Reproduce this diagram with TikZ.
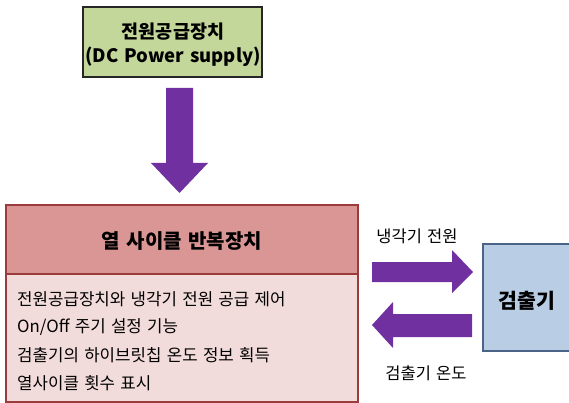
\documentclass[tikz,border=0pt]{standalone}
\usepackage{fontspec}
\setmainfont[WordSpace=1.4]{Noto Sans CJK KR}
\definecolor{psgreen}{HTML}{C4D79B}
\definecolor{hdrred}{HTML}{DA9694}
\definecolor{bodyred}{HTML}{F2DCDB}
\definecolor{bordred}{HTML}{9C3B3B}
\definecolor{detblue}{HTML}{B9CDE5}
\definecolor{detbord}{HTML}{4A6488}
\definecolor{arrowpurple}{HTML}{7030A0}
\tikzset{
  boxline/.style={line width=1.5pt},
  bigarrow/.style={fill=arrowpurple, draw=none},
  bodytext/.style={anchor=west, inner sep=0pt, font=\fontsize{16.8}{18}\selectfont},
  lbltext/.style={inner sep=0pt, font=\fontsize{16.5}{18}\selectfont},
}
\begin{document}
\begin{tikzpicture}[x=1pt, y=-1pt]
\useasboundingbox (0,0) rectangle (569,403);
% power supply box
\draw[boxline, draw=black!85, fill=psgreen] (83,7) rectangle (262,77);
\node[inner sep=0pt, align=center, font=\fontsize{18.5}{24}\selectfont\bfseries] (ps) at (173,44.5) {전원공급장치\\(DC Power supply)};
% down arrow
\coordinate (dtop) at (179.5,88);
\coordinate (dtip) at (179.5,193);
\fill[bigarrow] (166,88) -- (193,88) -- (193,163) -- (208,163) -- (dtip) -- (151,163) -- (166,163) -- cycle;
% main box
\draw[boxline, draw=bordred, fill=bodyred] (6,205) rectangle (358,402);
\draw[boxline, draw=bordred, fill=hdrred] (6,205) rectangle (358,274);
\node[inner sep=0pt, font=\fontsize{20}{22}\selectfont\bfseries] (title) at (182,241) {열 사이클 반복장치};
\node[bodytext] (l1) at (17,299) {전원공급장치와 냉각기 전원 공급 제어};
\node[bodytext] (l2) at (17,327) {On/Off 주기 설정 기능};
\node[bodytext] (l3) at (17,355) {검출기의 하이브릿칩 온도 정보 획득};
\node[bodytext] (l4) at (17,383) {열사이클 횟수 표시};
% detector box
\draw[boxline, draw=detbord, fill=detblue] (483,244) rectangle (572,351);
\node[inner sep=0pt, font=\fontsize{20.5}{22}\selectfont\bfseries] (det) at (527,301) {검출기};
% right arrow
\fill[bigarrow] (372,262) -- (452,262) -- (452,250) -- (473,272) -- (452,293) -- (452,282) -- (372,282) -- cycle;
% left arrow
\fill[bigarrow] (472,314) -- (393,314) -- (393,302) -- (372,325) -- (393,348) -- (393,337) -- (472,337) -- cycle;
% labels
\node[lbltext] (lbl1) at (417,236) {냉각기 전원};
\node[lbltext] (lbl2) at (426,373) {검출기 온도};
\end{tikzpicture}
\end{document}
